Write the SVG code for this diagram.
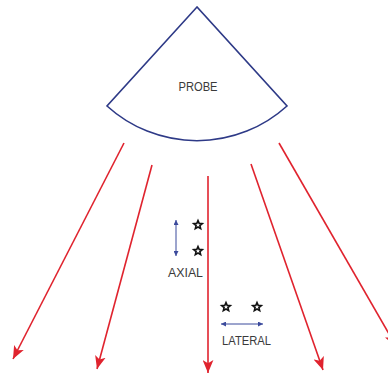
<svg xmlns="http://www.w3.org/2000/svg" width="388" height="379" viewBox="0 0 388 379">
  <style>
    .beam { stroke: #e0232e; stroke-width: 1.6; fill: none; marker-end: url(#redHead); }
    .dim { stroke: #3b4a9c; stroke-width: 1; fill: none; marker-start: url(#blueHead); marker-end: url(#blueHead); }
    .lbl { font-family: "Liberation Sans", Arial, sans-serif; font-size: 12px; fill: #3a3a3a; text-anchor: middle; }
    .star { fill: #ffffff; stroke: #111111; stroke-width: 1.6; stroke-linejoin: miter; }
  </style>
  <defs>
    <marker id="redHead" viewBox="0 0 12 10" refX="12" refY="5" markerWidth="13" markerHeight="11" markerUnits="userSpaceOnUse" orient="auto">
      <path d="M0,0 L12,5 L0,10 L3,5 Z" fill="#e0232e"/>
    </marker>
    <marker id="blueHead" viewBox="0 0 6 6" refX="6" refY="3" markerWidth="5" markerHeight="5" markerUnits="userSpaceOnUse" orient="auto-start-reverse">
      <path d="M0,0 L6,3 L0,6 Z" fill="#3b4a9c"/>
    </marker>
    <path id="starShape" d="M0,-4.5 L1.18,-1.62 L4.28,-1.39 L1.9,0.62 L2.65,3.64 L0,2 L-2.65,3.64 L-1.9,0.62 L-4.28,-1.39 L-1.18,-1.62 Z"/>
  </defs>
  <rect width="388" height="379" fill="#ffffff"/>

  <g id="probe">
    <path d="M197,7 L107,106 A134,134 0 0 0 287,106 Z" fill="#ffffff" stroke="#2e3a87" stroke-width="1.6" stroke-linejoin="miter"/>
    <text class="lbl" x="198" y="91" textLength="39" lengthAdjust="spacingAndGlyphs">PROBE</text>
  </g>

  <g id="connectors">
    <line class="beam" x1="124" y1="143" x2="13" y2="359"/>
    <line class="beam" x1="152" y1="165" x2="97" y2="369"/>
    <line class="beam" x1="208" y1="176" x2="208" y2="373"/>
    <line class="beam" x1="251" y1="164" x2="323" y2="370"/>
    <line class="beam" x1="279" y1="143" x2="396" y2="346"/>
  </g>

  <g id="axial">
    <line class="dim" x1="176" y1="220" x2="176" y2="256"/>
    <use href="#starShape" class="star" x="198" y="225"/>
    <use href="#starShape" class="star" x="198" y="251"/>
    <text class="lbl" x="185.5" y="277" textLength="35" lengthAdjust="spacingAndGlyphs">AXIAL</text>
  </g>

  <g id="lateral">
    <use href="#starShape" class="star" x="226" y="307"/>
    <use href="#starShape" class="star" x="257" y="307"/>
    <line class="dim" x1="221" y1="324" x2="263" y2="324"/>
    <text class="lbl" x="246.5" y="345" textLength="49" lengthAdjust="spacingAndGlyphs">LATERAL</text>
  </g>
</svg>
